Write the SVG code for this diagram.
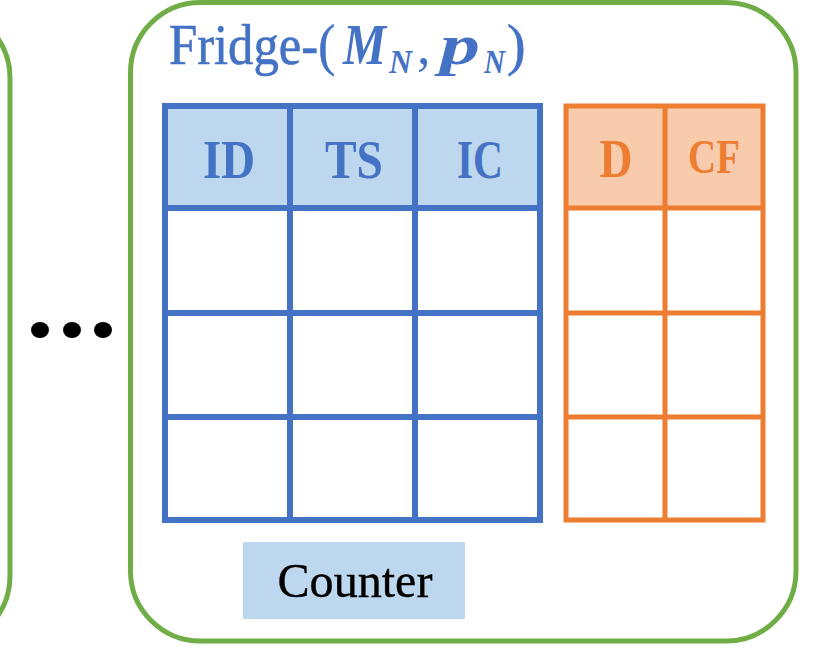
<svg xmlns="http://www.w3.org/2000/svg" width="813" height="655" viewBox="0 0 813 655">
<style>
.box{fill:#fff;stroke:#70AD47;stroke-width:5}
.bl{stroke:#4472C4;stroke-width:6;fill:none}
.or{stroke:#ED7D31;stroke-width:5;fill:none}
.hb{fill:#BDD7EE}
.ho{fill:#F8CBAD}
.ser{font-family:"Liberation Serif","DejaVu Serif",serif}
.ttl{font-family:"Liberation Serif","DejaVu Serif",serif;fill:#4472C4}
.mi{font-weight:bold;font-style:italic}
.hdb{font-family:"Liberation Serif","DejaVu Serif",serif;font-weight:bold;fill:#4472C4;text-anchor:middle}
.hdo{font-family:"Liberation Serif","DejaVu Serif",serif;font-weight:bold;fill:#ED7D31;text-anchor:middle}
</style>
<rect width="813" height="655" fill="#fff"/>
<g id="prev-node">
<rect class="box" x="-660" y="8" width="670" height="638" rx="70"/>
</g>
<g id="ellipsis">
<ellipse cx="40" cy="330" rx="9" ry="8" fill="#000"/>
<ellipse cx="72" cy="330" rx="9" ry="8" fill="#000"/>
<ellipse cx="103" cy="330" rx="9" ry="8" fill="#000"/>
</g>
<g id="fridge">
<rect class="box" x="130.5" y="2.5" width="665.5" height="638.5" rx="70"/>
<text class="ttl" x="169" y="64" font-size="57" textLength="166" lengthAdjust="spacingAndGlyphs" stroke="#4472C4" stroke-width="0.6">Fridge-(</text>
<text class="ttl mi" x="343" y="64" font-size="56" textLength="43" lengthAdjust="spacingAndGlyphs">M</text>
<text class="ttl mi" x="389" y="73" font-size="34" textLength="23" lengthAdjust="spacingAndGlyphs">N</text>
<text class="ttl" x="417" y="64" font-size="54">,</text>
<text class="ttl mi" x="440" y="64" font-size="56" textLength="40" lengthAdjust="spacingAndGlyphs">p</text>
<text class="ttl mi" x="484" y="73" font-size="34" textLength="21" lengthAdjust="spacingAndGlyphs">N</text>
<text class="ttl" x="507" y="64" font-size="56" stroke="#4472C4" stroke-width="0.6">)</text>
</g>
<g id="table-blue">
<rect class="hb" x="165" y="106" width="375" height="102"/>
<rect class="bl" x="165" y="106" width="375" height="414"/>
<line class="bl" x1="290" y1="106" x2="290" y2="520"/>
<line class="bl" x1="415" y1="106" x2="415" y2="520"/>
<line class="bl" x1="165" y1="208" x2="540" y2="208"/>
<line class="bl" x1="165" y1="313" x2="540" y2="313"/>
<line class="bl" x1="165" y1="417" x2="540" y2="417"/>
<text class="hdb" x="229" y="178" font-size="55" textLength="52" lengthAdjust="spacingAndGlyphs">ID</text>
<text class="hdb" x="354" y="178" font-size="55" textLength="58" lengthAdjust="spacingAndGlyphs">TS</text>
<text class="hdb" x="480" y="178" font-size="55" textLength="46" lengthAdjust="spacingAndGlyphs">IC</text>
</g>
<g id="table-orange">
<rect class="ho" x="566" y="106" width="197" height="102"/>
<rect class="or" x="566" y="106" width="197" height="414"/>
<line class="or" x1="665" y1="106" x2="665" y2="520"/>
<line class="or" x1="566" y1="208" x2="763" y2="208"/>
<line class="or" x1="566" y1="313" x2="763" y2="313"/>
<line class="or" x1="566" y1="417" x2="763" y2="417"/>
<text class="hdo" x="616" y="177" font-size="55" textLength="33" lengthAdjust="spacingAndGlyphs">D</text>
<text class="hdo" x="714" y="173" font-size="49" textLength="52" lengthAdjust="spacingAndGlyphs">CF</text>
</g>
<g id="counter">
<rect x="243" y="542" width="222" height="77" fill="#BDD7EE"/>
<text class="ser" x="355" y="597" font-size="49" text-anchor="middle" fill="#000" stroke="#000" stroke-width="0.4" textLength="155" lengthAdjust="spacingAndGlyphs">Counter</text>
</g>
<g id="connectors"></g>
</svg>
